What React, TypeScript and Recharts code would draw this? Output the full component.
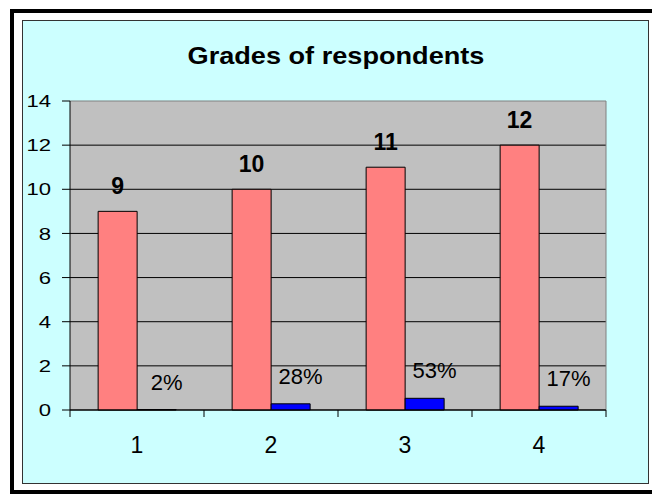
import { BarChart, Bar, XAxis, YAxis, CartesianGrid, LabelList } from "recharts"

// values
const grades = ["1", "2", "3", "4"]
const respondents = [9, 10, 11, 12]
const shares = [0.02, 0.28, 0.53, 0.17]
const yTicks = [0, 2, 4, 6, 8, 10, 12, 14]
const gridValues = [0, 2, 4, 6, 8, 10, 12]

const data = grades.map((g, i) => ({ grade: g, count: respondents[i], share: shares[i] }))

const FONT = "Arial, 'Liberation Sans', sans-serif"
const X_LABEL_GAP = 27

// the source bitmap is a bit wider than tall, so the y labels get stretched
function YTick(props: any) {
  const { x, y, payload } = props
  return (
    <text
      transform={`translate(${x},${y}) scale(1.3,1)`}
      textAnchor="end"
      dy="0.36em"
      fontSize={17}
      fontFamily={FONT}
      fill="#000"
    >
      {payload.value}
    </text>
  )
}

// excel puts the category tick marks between the groups, not under them
function XTick(props: any) {
  const { x, y, width, visibleTicksCount, index, payload } = props
  const half = width / visibleTicksCount / 2
  const axisY = y - X_LABEL_GAP
  return (
    <g>
      <line x1={x - half} x2={x - half} y1={axisY} y2={axisY + 7} stroke="#000" />
      {index === visibleTicksCount - 1 && (
        <line x1={x + half} x2={x + half} y1={axisY} y2={axisY + 7} stroke="#000" />
      )}
      <text x={x} y={y} dy="0.71em" textAnchor="middle" fontSize={23} fontFamily={FONT} fill="#000">
        {payload.value}
      </text>
    </g>
  )
}

function ShareLabel(props: any) {
  const { x, y, width, value } = props
  return (
    <text
      x={x + width / 2 + 10}
      y={y - 20}
      textAnchor="middle"
      fontSize={22}
      fontFamily={FONT}
      fill="#000"
    >
      {Math.round(value * 100) + "%"}
    </text>
  )
}

export default function App() {
  return (
    <div style={{ position: "absolute", left: 0, top: 0, width: 652, height: 494, background: "#fff", overflow: "hidden" }}>
      <div
        style={{
          position: "absolute",
          left: 10,
          top: 9,
          width: 680,
          height: 485,
          border: "4px solid #000",
          boxSizing: "border-box",
        }}
      />
      <div
        style={{
          position: "absolute",
          left: 22,
          top: 20,
          width: 627,
          height: 464,
          background: "#CCFFFF",
          border: "1px solid #333",
          boxSizing: "border-box",
        }}
      />
      <div
        style={{
          position: "absolute",
          left: 0,
          width: 672,
          top: 44,
          textAlign: "center",
          fontFamily: FONT,
          fontWeight: "bold",
          fontSize: 24,
          lineHeight: "24px",
          color: "#000",
          transform: "scaleX(1.13)",
          transformOrigin: "336px 0",
        }}
      >
        Grades of respondents
      </div>
      <div style={{ position: "absolute", left: 0, top: 0 }}>
        <BarChart
          width={652}
          height={494}
          data={data}
          margin={{ top: 101, right: 46, bottom: 83, left: 0 }}
          barCategoryGap="21%"
          barGap={0}
        >
          <CartesianGrid
            vertical={false}
            horizontalValues={gridValues}
            stroke="#000"
            fill="#C0C0C0"
            fillOpacity={1}
          />
          {/* grey frame on the top and right of the plot area */}
          <CartesianGrid
            stroke="#808080"
            horizontalCoordinatesGenerator={({ offset }: any) => [offset.top]}
            verticalCoordinatesGenerator={({ offset }: any) => [offset.left + offset.width]}
          />
          <XAxis
            dataKey="grade"
            height={1}
            interval={0}
            axisLine={{ stroke: "#000" }}
            tickLine={false}
            tickSize={0}
            tickMargin={X_LABEL_GAP}
            tick={XTick}
          />
          <YAxis
            domain={[0, 14]}
            ticks={yTicks}
            interval={0}
            width={70}
            tickSize={8}
            tickMargin={11}
            axisLine={{ stroke: "#000" }}
            tickLine={{ stroke: "#000" }}
            tick={YTick}
          />
          <Bar dataKey="count" fill="#FF8080" stroke="#000" strokeWidth={1} isAnimationActive={false}>
            <LabelList
              dataKey="count"
              position="top"
              offset={17}
              fontSize={23}
              fontWeight="bold"
              fontFamily={FONT}
              fill="#000"
            />
          </Bar>
          <Bar dataKey="share" fill="#0000FF" stroke="#000" strokeWidth={1} isAnimationActive={false}>
            <LabelList dataKey="share" content={ShareLabel} />
          </Bar>
        </BarChart>
      </div>
    </div>
  )
}
